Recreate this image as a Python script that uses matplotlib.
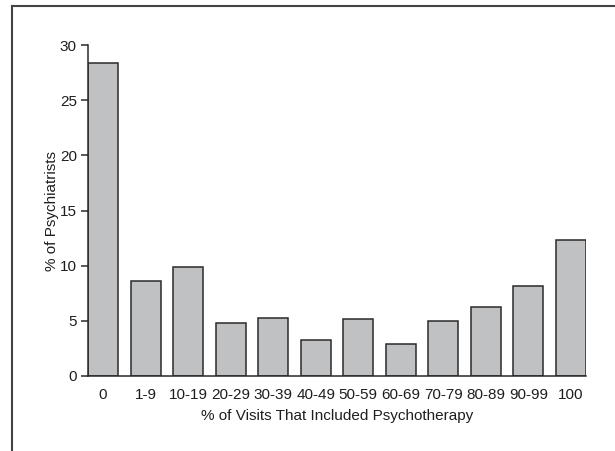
import matplotlib.pyplot as plt
from matplotlib.lines import Line2D
from matplotlib import font_manager

categories = ["0", "1-9", "10-19", "20-29", "30-39", "40-49", "50-59",
              "60-69", "70-79", "80-89", "90-99", "100"]
percent_psychiatrists = [28.4, 8.6, 9.9, 4.8, 5.3, 3.3, 5.2, 2.9, 5.0, 6.3, 8.2, 12.3]
y_ticks = [0, 5, 10, 15, 20, 25, 30]

names = {f.name for f in font_manager.fontManager.ttflist}
if "Liberation Sans Narrow" in names:
    plt.rcParams["font.family"] = ["Liberation Sans Narrow", "DejaVu Sans"]
else:
    plt.rcParams["font.family"] = ["Liberation Sans", "DejaVu Sans"]

text_color = "#1e1e1e"

fig = plt.figure(figsize=(6.15, 4.51), dpi=100)
ax = fig.add_axes([0.1431, 0.1663, 0.8097, 0.7335])

x = list(range(len(categories)))
ax.bar(x, percent_psychiatrists, width=0.705, color="#c0c1c3",
       edgecolor="#2a2a2a", linewidth=1.1)

ax.set_xlim(-0.355, len(categories) - 1 + 0.355)
ax.set_ylim(0, 30)
ax.set_yticks(y_ticks)
ax.set_xticks(x)
ax.set_xticklabels(categories)

for side in ["top", "right"]:
    ax.spines[side].set_visible(False)
for side in ["left", "bottom"]:
    ax.spines[side].set_linewidth(1.1)
    ax.spines[side].set_color("#2a2a2a")

ax.tick_params(axis="y", length=5, width=1.1, pad=3, labelsize=11,
               labelcolor=text_color, color="#2a2a2a")
ax.tick_params(axis="x", length=0, pad=9, labelsize=11, labelcolor=text_color)

ax.set_xlabel("% of Visits That Included Psychotherapy", fontsize=11,
              color=text_color, labelpad=5)
ax.set_ylabel("% of Psychiatrists", fontsize=11, color=text_color)
ax.yaxis.set_label_coords(-0.058, 0.5)

# partial frame around the figure (top and left edges only)
frame_top = 1 - 5.7 / 451
frame_left = 12 / 615
fig.add_artist(Line2D([frame_left, 1], [frame_top, frame_top],
                      transform=fig.transFigure, color="#444444", linewidth=1.5))
fig.add_artist(Line2D([frame_left, frame_left], [0, frame_top],
                      transform=fig.transFigure, color="#444444", linewidth=1.5))

fig.savefig("out.png", dpi=100)
